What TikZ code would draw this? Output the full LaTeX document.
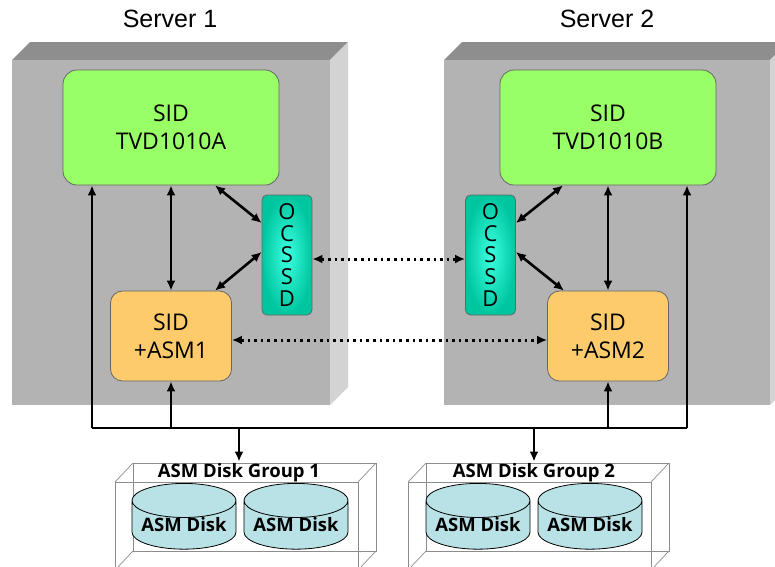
\documentclass[tikz,border=0pt]{standalone}
\usepackage{fontspec}
\setmainfont{Open Sans}
\newfontfamily\arialfont{Liberation Sans}
\usetikzlibrary{arrows.meta,positioning,shapes.geometric}
\definecolor{dbgreen}{HTML}{99FF66}
\definecolor{asmorange}{HTML}{FDCB6B}
\definecolor{cssdin}{HTML}{3CFFE0}
\definecolor{cssdout}{HTML}{00C6A0}
\definecolor{diskblue}{HTML}{B8E2E6}
\definecolor{srvfront}{HTML}{B3B3B3}
\definecolor{srvtop}{HTML}{8E8E8E}
\definecolor{srvside}{HTML}{D3D3D3}

\begin{document}
\begin{tikzpicture}[x=1pt,y=-1pt,on grid,
	>={Latex[length=10pt,width=9pt]},
	link/.style={line width=2.6pt},
	dotlink/.style={line width=3pt,dash pattern=on 2.6pt off 4pt,<->},
	sidbox/.style={draw=black!60,line width=0.8pt,rounded corners=14pt,fill=dbgreen,minimum width=216pt,minimum height=115pt,align=center,font=\fontsize{23}{28}\selectfont},
	asmbox/.style={sidbox,fill=asmorange,rounded corners=12pt,minimum width=121pt,minimum height=90pt},
	cssdbox/.style={draw=black!60,line width=0.8pt,rounded corners=5pt,inner color=cssdin,outer color=cssdout,minimum width=50pt,minimum height=120pt,inner sep=0pt,align=center,font=\fontsize{22}{21.7}\selectfont},
	disk/.style={cylinder,shape border rotate=90,aspect=0.4,draw,line width=0.8pt,fill=diskblue,minimum width=104pt,minimum height=63pt,inner sep=0pt,font=\bfseries\fontsize{18.5}{20}\selectfont},
	grpline/.style={draw=black!45,line width=0.7pt},
	title/.style={font=\arialfont\fontsize{25}{30}\selectfont}]
	\useasboundingbox (0,0) rectangle (775,566);
	\clip (0,0) rectangle (775,566);
	% server boxes
	\foreach \xa/\xb in {12/330,444/770} {
		\fill[srvtop] (\xa,60) -- (\xa+18,42) -- (\xb+18,42) -- (\xb,60) -- cycle;
		\fill[srvside] (\xb,60) -- (\xb+18,42) -- (\xb+18,387) -- (\xb,405) -- cycle;
		\fill[srvfront] (\xa,60) rectangle (\xb,405);
	}
	\node[title] (srv1) at (170,19) {Server 1};
	\node[title] (srv2) at (607,19) {Server 2};
	
	\node[sidbox] (db1) at (171,127.5) {SID\\TVD1010A};
	\node[sidbox] (db2) at (608,127.5) {SID\\TVD1010B};
	\node[asmbox] (asm1) [below=208.5pt of db1] {SID\\+ASM1};
	\node[asmbox] (asm2) [below=208.5pt of db2] {SID\\+ASM2};
	\node[cssdbox] (cssd1) at (287,255) {O\\C\\S\\S\\D};
	\node[cssdbox] (cssd2) at (490.5,255) {O\\C\\S\\S\\D};
	
	\path[link,<->]
	(db1.south) edge (asm1.north)
	(db2.south) edge (asm2.north)
	([xshift=44pt]db1.south) edge ([yshift=32pt]cssd1.west)
	([xshift=44pt]asm1.north) edge ([yshift=3pt]cssd1.west)
	([xshift=-45pt]db2.south) edge ([yshift=32pt]cssd2.east)
	([xshift=-44pt]asm2.north) edge ([yshift=3pt]cssd2.east);
	\draw[dotlink] ([yshift=-4pt]cssd1.east) -- ([yshift=-4pt]cssd2.west);
	\draw[dotlink] ([yshift=-4pt]asm1.east) -- ([yshift=-4pt]asm2.west);
	
	% disk groups
	\foreach \gx in {115,408} {
		\draw[grpline] (\gx+18,463) rectangle (\gx+261,551);
		\draw[grpline] (\gx,482) -- (\gx+18,463) (\gx+243,482) -- (\gx+261,463)
		(\gx,570) -- (\gx+18,551) (\gx+243,570) -- (\gx+261,551);
		\draw[grpline] (\gx,482) rectangle (\gx+243,570);
	}
	\node[disk] (dsk1a) at (184,525) {ASM Disk};
	\node[disk] (dsk1b) at (296,525) {ASM Disk};
	\node[disk] (dsk2a) at (478,525) {ASM Disk};
	\node[disk] (dsk2b) at (590,525) {ASM Disk};
	\node[inner sep=2pt,font=\bfseries\fontsize{18.5}{20}\selectfont] (grp1) at (239,473) {ASM Disk Group 1};
	\node[inner sep=2pt,font=\bfseries\fontsize{18.5}{20}\selectfont] (grp2) at (534,473) {ASM Disk Group 2};
	
	% shared bus
	\coordinate (busL) at (92,428);
	\coordinate (busR) at (687,428);
	\draw[link] (busL) -- (busR);
	\draw[link,->] (busL) -- (busL |- db1.south);
	\draw[link,->] (busR) -- (busR |- db2.south);
	\draw[link,->] (asm1.south |- busL) -- (asm1.south);
	\draw[link,->] (asm2.south |- busL) -- (asm2.south);
	\draw[link,->] (grp1.north |- busL) -- (grp1.north);
	\draw[link,->] (grp2.north |- busL) -- (grp2.north);
\end{tikzpicture}
\end{document}
